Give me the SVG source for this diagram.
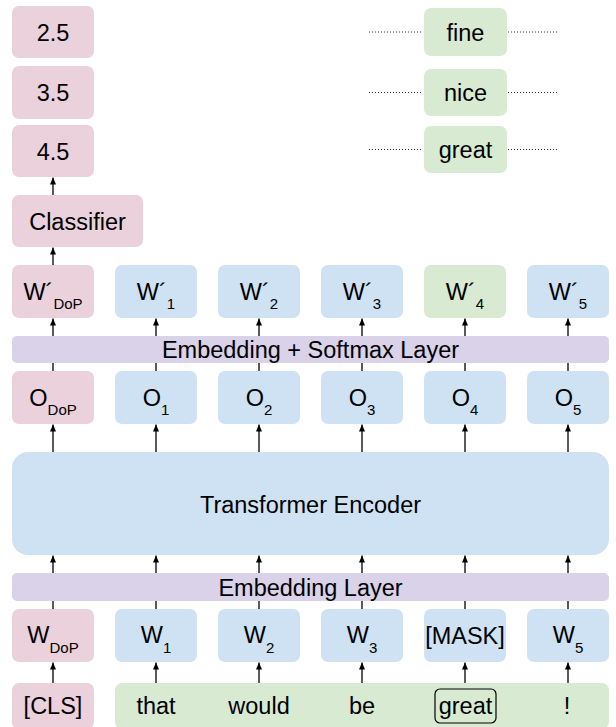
<svg xmlns="http://www.w3.org/2000/svg" width="616" height="727" viewBox="0 0 616 727">
<style>
.t{font-family:"Liberation Sans",Arial,sans-serif;font-size:23.5px;fill:#000;text-anchor:middle}
.s{font-size:15px}
.pink{fill:#EAD1DC}
.blue{fill:#CFE2F3}
.green{fill:#D9EAD3}
.purple{fill:#D9D2E9}
.ar{stroke:#000;stroke-width:1.3;fill:none;marker-end:url(#ah)}
.dot{stroke:#333;stroke-width:1;stroke-dasharray:1 2;fill:none}
</style>
<defs>
<marker id="ah" markerUnits="userSpaceOnUse" markerWidth="7" markerHeight="6" refX="7" refY="3" orient="auto">
<path d="M0,0 L7,3 L0,6 z" fill="#000"/>
</marker>
</defs>
<rect width="616" height="727" fill="#fff"/>
<g id="connectors">
<line class="ar" x1="53" y1="195" x2="53" y2="177.5"/>
<line class="ar" x1="53" y1="265" x2="53" y2="247.5"/>
<line class="ar" x1="53" y1="371" x2="53" y2="318.5"/>
<line class="ar" x1="156" y1="371" x2="156" y2="318.5"/>
<line class="ar" x1="259" y1="371" x2="259" y2="318.5"/>
<line class="ar" x1="362" y1="371" x2="362" y2="318.5"/>
<line class="ar" x1="465" y1="371" x2="465" y2="318.5"/>
<line class="ar" x1="568" y1="371" x2="568" y2="318.5"/>
<line class="ar" x1="53" y1="452" x2="53" y2="424.5"/>
<line class="ar" x1="156" y1="452" x2="156" y2="424.5"/>
<line class="ar" x1="259" y1="452" x2="259" y2="424.5"/>
<line class="ar" x1="362" y1="452" x2="362" y2="424.5"/>
<line class="ar" x1="465" y1="452" x2="465" y2="424.5"/>
<line class="ar" x1="568" y1="452" x2="568" y2="424.5"/>
<line class="ar" x1="53" y1="609" x2="53" y2="555.5"/>
<line class="ar" x1="156" y1="609" x2="156" y2="555.5"/>
<line class="ar" x1="259" y1="609" x2="259" y2="555.5"/>
<line class="ar" x1="362" y1="609" x2="362" y2="555.5"/>
<line class="ar" x1="465" y1="609" x2="465" y2="555.5"/>
<line class="ar" x1="568" y1="609" x2="568" y2="555.5"/>
<line class="ar" x1="53" y1="683" x2="53" y2="662.5"/>
<line class="ar" x1="156" y1="690" x2="156" y2="662.5"/>
<line class="ar" x1="259" y1="690" x2="259" y2="662.5"/>
<line class="ar" x1="362" y1="690" x2="362" y2="662.5"/>
<line class="ar" x1="465" y1="689" x2="465" y2="662.5"/>
<line class="ar" x1="568" y1="690" x2="568" y2="662.5"/>
<line class="dot" x1="369" y1="32" x2="421" y2="32"/>
<line class="dot" x1="508" y1="32" x2="558" y2="32"/>
<line class="dot" x1="369" y1="92.5" x2="421" y2="92.5"/>
<line class="dot" x1="508" y1="92.5" x2="558" y2="92.5"/>
<line class="dot" x1="369" y1="149.5" x2="421" y2="149.5"/>
<line class="dot" x1="508" y1="149.5" x2="558" y2="149.5"/>
</g>
<g id="score25"><rect class="pink" x="12" y="6" width="82" height="52" rx="7"/><text class="t" x="53" y="40.5">2.5</text></g>
<g id="score35"><rect class="pink" x="12" y="66" width="82" height="53" rx="7"/><text class="t" x="53" y="101">3.5</text></g>
<g id="score45"><rect class="pink" x="12" y="125" width="82" height="52" rx="7"/><text class="t" x="53" y="159.5">4.5</text></g>
<g id="classifier"><rect class="pink" x="12" y="195" width="131" height="52" rx="7"/><text class="t" x="77.5" y="229.5">Classifier</text></g>
<g id="cand-fine"><rect class="green" x="424" y="8" width="83" height="48" rx="7"/><text class="t" x="465.5" y="40.5">fine</text></g>
<g id="cand-nice"><rect class="green" x="424" y="69" width="83" height="47" rx="7"/><text class="t" x="465.5" y="101">nice</text></g>
<g id="cand-great"><rect class="green" x="424" y="126" width="83" height="47" rx="7"/><text class="t" x="465.5" y="158">great</text></g>
<g id="wp-dop"><rect class="pink" x="12" y="265" width="82" height="53" rx="7"/><text class="t" x="53" y="300">W´<tspan class="s" dy="9">DoP</tspan></text></g>
<g id="wp-1"><rect class="blue" x="115" y="265" width="82" height="53" rx="7"/><text class="t" x="156" y="300">W´<tspan class="s" dy="9">1</tspan></text></g>
<g id="wp-2"><rect class="blue" x="218" y="265" width="82" height="53" rx="7"/><text class="t" x="259" y="300">W´<tspan class="s" dy="9">2</tspan></text></g>
<g id="wp-3"><rect class="blue" x="321" y="265" width="82" height="53" rx="7"/><text class="t" x="362" y="300">W´<tspan class="s" dy="9">3</tspan></text></g>
<g id="wp-4"><rect class="green" x="424" y="265" width="82" height="53" rx="7"/><text class="t" x="465" y="300">W´<tspan class="s" dy="9">4</tspan></text></g>
<g id="wp-5"><rect class="blue" x="527" y="265" width="82" height="53" rx="7"/><text class="t" x="568" y="300">W´<tspan class="s" dy="9">5</tspan></text></g>
<g id="emb-softmax"><rect class="purple" x="12" y="336" width="597" height="27" rx="5"/><text class="t" x="310.5" y="358">Embedding + Softmax Layer</text></g>
<g id="o-dop"><rect class="pink" x="12" y="371" width="82" height="53" rx="7"/><text class="t" x="53" y="406">O<tspan class="s" dy="9">DoP</tspan></text></g>
<g id="o-1"><rect class="blue" x="115" y="371" width="82" height="53" rx="7"/><text class="t" x="156" y="406">O<tspan class="s" dy="9">1</tspan></text></g>
<g id="o-2"><rect class="blue" x="218" y="371" width="82" height="53" rx="7"/><text class="t" x="259" y="406">O<tspan class="s" dy="9">2</tspan></text></g>
<g id="o-3"><rect class="blue" x="321" y="371" width="82" height="53" rx="7"/><text class="t" x="362" y="406">O<tspan class="s" dy="9">3</tspan></text></g>
<g id="o-4"><rect class="blue" x="424" y="371" width="82" height="53" rx="7"/><text class="t" x="465" y="406">O<tspan class="s" dy="9">4</tspan></text></g>
<g id="o-5"><rect class="blue" x="527" y="371" width="82" height="53" rx="7"/><text class="t" x="568" y="406">O<tspan class="s" dy="9">5</tspan></text></g>
<g id="transformer"><rect class="blue" x="12" y="452" width="597" height="103" rx="16"/><text class="t" x="310.5" y="512.5">Transformer Encoder</text></g>
<g id="emb-layer"><rect class="purple" x="12" y="573" width="597" height="28" rx="5"/><text class="t" x="310.5" y="595.5">Embedding Layer</text></g>
<g id="w-dop"><rect class="pink" x="12" y="609" width="82" height="53" rx="7"/><text class="t" x="53" y="643">W<tspan class="s" dy="10">DoP</tspan></text></g>
<g id="w-1"><rect class="blue" x="115" y="609" width="82" height="53" rx="7"/><text class="t" x="156" y="643">W<tspan class="s" dy="10">1</tspan></text></g>
<g id="w-2"><rect class="blue" x="218" y="609" width="82" height="53" rx="7"/><text class="t" x="259" y="643">W<tspan class="s" dy="10">2</tspan></text></g>
<g id="w-3"><rect class="blue" x="321" y="609" width="82" height="53" rx="7"/><text class="t" x="362" y="643">W<tspan class="s" dy="10">3</tspan></text></g>
<g id="w-mask"><rect class="blue" x="424" y="609" width="82" height="53" rx="7"/><text class="t" x="465" y="644">[MASK]</text></g>
<g id="w-5"><rect class="blue" x="527" y="609" width="82" height="53" rx="7"/><text class="t" x="568" y="643">W<tspan class="s" dy="10">5</tspan></text></g>
<g id="cls"><rect class="pink" x="12" y="683" width="82" height="46" rx="7"/><text class="t" x="53" y="713.5">[CLS]</text></g>
<g id="sentence"><rect class="green" x="115" y="683" width="494" height="46" rx="7"/>
<text class="t" x="156" y="713.5">that</text>
<text class="t" x="259" y="713.5">would</text>
<text class="t" x="362" y="713.5">be</text>
<rect x="435" y="689" width="61" height="34" rx="5" fill="none" stroke="#000" stroke-width="1.2"/>
<text class="t" x="465.5" y="713.5">great</text>
<text class="t" x="567" y="713.5">!</text>
</g>
</svg>
